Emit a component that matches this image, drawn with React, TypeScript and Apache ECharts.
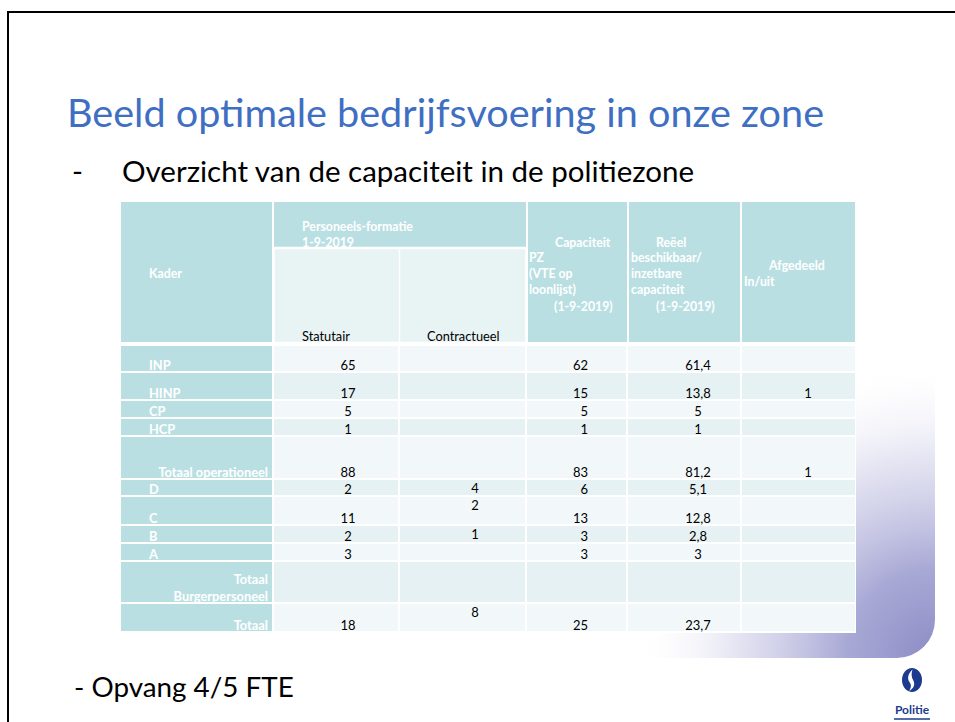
import React, { useEffect, useRef } from "react";
import * as echarts from "echarts";

// ---------- data ----------
const kader = ["INP", "HINP", "CP", "HCP", "Totaal operationeel", "D", "C", "B", "A", "Totaal\nBurgerpersoneel", "Totaal"];
const statutair: (number | null)[] = [65, 17, 5, 1, 88, 2, 11, 2, 3, null, 18];
const contractueel: (number | null)[] = [null, null, null, null, null, 4, 2, 1, null, null, 8];
const capaciteit: (number | null)[] = [62, 15, 5, 1, 83, 6, 13, 3, 3, null, 25];
const reeel: (number | null)[] = [61.4, 13.8, 5, 1, 81.2, 5.1, 12.8, 2.8, 3, null, 23.7];
const afgedeeld: (number | null)[] = [null, 1, null, null, 1, null, null, null, null, null, null];
const kaderRightAligned = [false, false, false, false, true, false, false, false, false, true, true];

const titleText = "Beeld optimale bedrijfsvoering in onze zone";
const subtitleText = "Overzicht van de capaciteit in de politiezone";
const footText = "- Opvang 4/5 FTE";

// ---------- layout ----------
const FONT = "Lato, 'Open Sans', sans-serif";
const TEAL = "#badfe3";
const LIGHT = "#f2f8fa";
const DARK = "#e6f1f3";
const colEdges = [121, 273, 399, 526, 627, 741, 855];
const rowEdges = [345, 372, 400, 418, 436, 479, 496, 525, 543, 561, 603, 632];

const fmt = (v: number | null) => (v === null ? "" : String(v).replace(".", ","));

echarts.graphic.registerShape(
  "politieFlame",
  echarts.graphic.extendPath(
    "M11 1 C6 6 5 10 8.5 14.5 C10 16.5 9.5 19.5 7.5 22.5 C12.5 20 14 16 12 12 C10 9 9.5 5.5 11 1 Z",
    {}
  )
);

function txt(x: number, y: number, text: string, o: any = {}) {
  const align = o.align || "left";
  const va = o.va || "middle";
  return {
    type: "text",
    x,
    y,
    silent: true,
    style: {
      text,
      fill: o.fill || "#000",
      fontSize: o.size || 12,
      fontFamily: o.family || FONT,
      fontWeight: o.weight || "normal",
      align,
      verticalAlign: va,
      textAlign: align,
      textVerticalAlign: va,
    },
  };
}

function headerElements() {
  const els: any[] = [];
  const hb = { fill: "#fff", size: 12.3, weight: "bold" };
  els.push({ type: "rect", shape: { x: 121, y: 202, width: 151, height: 140 }, style: { fill: TEAL } });
  els.push({ type: "rect", shape: { x: 274, y: 202, width: 252, height: 140 }, style: { fill: TEAL } });
  els.push({ type: "rect", shape: { x: 528, y: 202, width: 99, height: 140 }, style: { fill: TEAL } });
  els.push({ type: "rect", shape: { x: 629, y: 202, width: 111, height: 140 }, style: { fill: TEAL } });
  els.push({ type: "rect", shape: { x: 742, y: 202, width: 113, height: 140 }, style: { fill: TEAL } });
  els.push({
    type: "rect",
    shape: { x: 273.5, y: 248, width: 253, height: 95 },
    style: { fill: "#e8f3f4", stroke: "#fff", lineWidth: 2.5 },
  });
  els.push({ type: "line", shape: { x1: 399.5, y1: 248, x2: 399.5, y2: 343 }, style: { stroke: "#fff", lineWidth: 1.5 } });

  els.push(txt(149, 273, "Kader", hb));
  els.push(txt(302, 226, "Personeels-formatie", hb));
  els.push(txt(302, 242, "1-9-2019", hb));
  els.push(txt(302, 336, "Statutair", { size: 12.8 }));
  els.push(txt(427, 336, "Contractueel", { size: 12.8 }));

  els.push(txt(555, 242, "Capaciteit", hb));
  els.push(txt(529, 257, "PZ", hb));
  els.push(txt(529, 273, "(VTE op", hb));
  els.push(txt(529, 289, "loonlijst)", hb));
  els.push(txt(554, 306, "(1-9-2019)", hb));

  els.push(txt(656, 242, "Reëel", hb));
  els.push(txt(631, 257, "beschikbaar/", hb));
  els.push(txt(631, 273, "inzetbare", hb));
  els.push(txt(631, 289, "capaciteit", hb));
  els.push(txt(656, 306, "(1-9-2019)", hb));

  els.push(txt(769, 265, "Afgedeeld", hb));
  els.push(txt(744, 281, "In/uit", hb));
  return els;
}

export default function App() {
  const ref = useRef<HTMLDivElement>(null);
  useEffect(() => {
    document.body.style.margin = "0";
    const chart = echarts.init(ref.current!, null, { renderer: "svg", width: 955, height: 722 });

    const blobStops = [
      { offset: 0, color: "#8c8cc6" },
      { offset: 0.3, color: "#a9a9d6" },
      { offset: 0.65, color: "rgba(214,214,236,0.7)" },
      { offset: 1, color: "rgba(255,255,255,0)" },
    ];
    const blobFill = () => new echarts.graphic.RadialGradient(935, 658, 300, blobStops, true);

    const decoration: any[] = [
      // decorative lavender corner, kept outside the table area
      {
        type: "rect",
        shape: { x: 856, y: 345, width: 79, height: 313, r: [0, 0, 38, 0] },
        style: { fill: blobFill() },
      },
      {
        type: "rect",
        shape: { x: 600, y: 633, width: 257, height: 25 },
        style: { fill: blobFill() },
      },
      { type: "rect", shape: { x: 8, y: 12, width: 1200, height: 1200 }, style: { fill: "none", stroke: "#000", lineWidth: 2 } },
      txt(67, 111, titleText, { size: 39.6, fill: "#3f6fc2" }),
      txt(72, 170, "-", { size: 29.5 }),
      txt(122, 170, subtitleText, { size: 29.5 }),
      txt(74, 686, footText, { size: 27.8 }),
      {
        type: "ellipse",
        shape: { cx: 912, cy: 680, rx: 10, ry: 12 },
        style: { fill: "#1d3b8e" },
      },
      { type: "politieFlame", x: 902, y: 668.5, scaleX: 0.95, scaleY: 1.0, style: { fill: "#fff" } },
      txt(912, 709, "Politie", { size: 12, weight: "bold", fill: "#1d3b8e", align: "center" }),
      { type: "line", shape: { x1: 894, y1: 719, x2: 930, y2: 719 }, style: { stroke: "#1d3b8e", lineWidth: 1.5 } },
      ...headerElements(),
    ];

    const dataCols = [statutair, contractueel, capaciteit, reeel, afgedeeld];
    const colX = [348, 475, 588, 698, 808];
    const colAlign = ["center", "center", "right", "center", "center"];

    const renderItem = (params: any, api: any) => {
      const i = params.dataIndex;
      const top = api.coord([0, rowEdges[i]])[1];
      const bot = api.coord([0, rowEdges[i + 1]])[1];
      const children: any[] = [];
      const fillData = i % 2 === 0 ? LIGHT : DARK;
      for (let c = 0; c < colEdges.length - 1; c++) {
        const x0 = api.coord([colEdges[c], 0])[0];
        const x1 = api.coord([colEdges[c + 1], 0])[0];
        const l = c === 0 ? x0 : x0 + 1;
        const r = c === colEdges.length - 2 ? x1 : x1 - 1;
        children.push({
          type: "rect",
          shape: { x: l, y: top + 1, width: r - l, height: bot - top - 2 },
          style: { fill: c === 0 ? TEAL : fillData },
        });
      }
      const lines = kader[i].split("\n");
      lines.forEach((ln, k) => {
        const y = bot - 7 - (lines.length - 1 - k) * 17;
        if (kaderRightAligned[i]) {
          children.push(txt(api.coord([268, 0])[0], y, ln, { fill: "#fff", weight: "bold", size: 12.8, align: "right" }));
        } else {
          children.push(txt(api.coord([149, 0])[0], y, ln, { fill: "#fff", weight: "bold", size: 12.8 }));
        }
      });
      dataCols.forEach((arr, c) => {
        const v = fmt(arr[i]);
        if (!v) return;
        const y = c === 1 ? top + 9 : bot - 7;
        children.push(txt(api.coord([colX[c], 0])[0], y, v, { size: 13, align: colAlign[c] }));
      });
      return { type: "group", children };
    };

    chart.setOption({
      animation: false,
      grid: { left: 0, top: 0, right: 0, bottom: 0 },
      xAxis: { type: "value", min: 0, max: 955, show: false },
      yAxis: { type: "value", min: 0, max: 722, inverse: true, show: false },
      graphic: { elements: decoration },
      series: [
        {
          type: "custom",
          renderItem,
          data: kader.map((_, i) => [i, rowEdges[i]]),
          z: 10,
          silent: true,
        },
      ],
    });
    return () => chart.dispose();
  }, []);
  return <div ref={ref} style={{ position: "absolute", left: 0, top: 0, width: 955, height: 722 }} />;
}
